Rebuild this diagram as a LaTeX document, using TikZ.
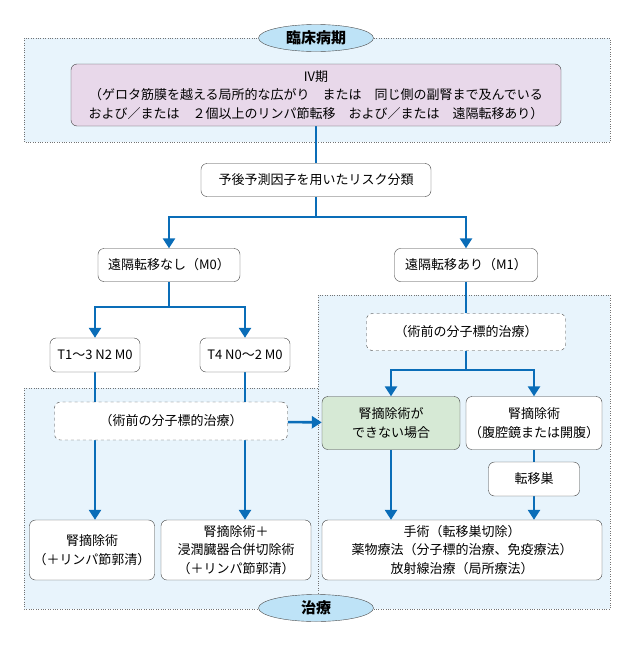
\documentclass[tikz,border=0pt]{standalone}
\usepackage{fontspec}
\setmainfont{Noto Sans CJK JP}
\usetikzlibrary{arrows.meta,positioning,shapes.geometric}

\definecolor{flowblue}{HTML}{0A6DB8}
\definecolor{areafill}{HTML}{E8F4FC}
\definecolor{ovalfill}{HTML}{BEE3F7}
\definecolor{stagefill}{HTML}{E8D8EA}
\definecolor{greenfill}{HTML}{D6E9D5}

\pgfdeclarelayer{area}
\pgfdeclarelayer{flow}
\pgfsetlayers{area,flow,main}

\begin{document}
\begin{tikzpicture}[x=1pt, y=-1pt,
			box/.style={draw=black!75, rounded corners=6pt, fill=white, align=center, inner sep=0pt, font=\fontsize{13}{18.5}\selectfont},
			pre/.style={box, dashed},
			oval/.style={ellipse, draw=black!70, fill=ovalfill, minimum width=115, minimum height=27, inner sep=0pt, font=\fontsize{15}{16}\selectfont\bfseries},
			area/.style={draw=black!55, dotted, fill=areafill},
			line/.style={draw=flowblue, line width=2.6pt},
			arr/.style={line, -{Triangle[length=10pt, width=12pt]}}
			]
			\useasboundingbox (0,0) rectangle (630,656);
			
			% shaded areas
			\begin{pgfonlayer}{area}
				\path[area] (24,38) rectangle (610,142);
				\path[area] (24,388) rectangle (318,609);
				\path[area] (318,295) rectangle (610,609);
			\end{pgfonlayer}
			
			\node[oval] (stagelabel) at (316,38) {臨床病期};
			\node[oval] (treatlabel) at (316,608) {治療};
			
			\node[box, fill=stagefill, minimum width=490, minimum height=62] (stage) at (316,95)
				{IV期\\（ゲロタ筋膜を越える局所的な広がり　または　同じ側の副腎まで及んでいる\\および／または　２個以上のリンパ節転移　および／または　遠隔転移あり）};
			\node[box, minimum width=230, minimum height=33] (risk) at (316,180) {予後予測因子を用いたリスク分類};
			
			\node[box, minimum width=142, minimum height=33] (nometa) at (169,265) {遠隔転移なし（M0）};
			\node[box, minimum width=143, minimum height=33] (meta) at (466,265) {遠隔転移あり（M1）};
			
			\node[box, minimum width=90, minimum height=34] (tlow) at (95,355) {T1〜3 N2 M0};
			\node[box, minimum width=90, minimum height=34] (thigh) at (245,355) {T4 N0〜2 M0};
			
			\node[pre, minimum width=233, minimum height=38] (preleft) at (171,421) {（術前の分子標的治療）};
			\node[pre, minimum width=199, minimum height=37] (preright) at (466,332) {（術前の分子標的治療）};
			
			\node[box, fill=greenfill, minimum width=138, minimum height=53] (noop) at (391,423) {腎摘除術が\\できない場合};
			\node[box, minimum width=136, minimum height=53] (nephr) at (534,423) {腎摘除術\\（腹腔鏡または開腹）};
			\node[box, minimum width=91, minimum height=34] (focus) at (534,479) {転移巣};
			
			\node[box, minimum width=125, minimum height=60] (resleft) at (92,550) {腎摘除術\\（＋リンパ節郭清）};
			\node[box, minimum width=150, minimum height=60] (resmid) at (236,550) {腎摘除術＋\\浸潤臓器合併切除術\\（＋リンパ節郭清）};
			\node[box, minimum width=280, minimum height=60] (resright) at (462,550) {手術（転移巣切除）\\薬物療法（分子標的治療、免疫療法）\\放射線治療（局所療法）};
			
			\coordinate (riskfork) at (316,217);
			\coordinate (m0fork) at (169,307);
			\coordinate (m1fork) at (466,370);
			
			% connectors
			\begin{pgfonlayer}{flow}
				\draw[line] (stage) -- (risk);
				\draw[line] (risk) -- (riskfork);
				\draw[arr] (riskfork) -| (nometa);
				\draw[arr] (riskfork) -| (meta);
				\draw[line] (nometa) -- (m0fork);
				\draw[arr] (m0fork) -| (tlow);
				\draw[arr] (m0fork) -| (thigh);
				\draw[arr] (tlow) -- (tlow |- resleft.north);
				\draw[arr] (thigh) -- (thigh |- resmid.north);
				\draw[arr] (preleft) -- (noop);
				\draw[line] (meta) -- (preright);
				\draw[line] (preright) -- (m1fork);
				\draw[arr] (m1fork) -| (noop);
				\draw[arr] (m1fork) -| (nephr);
				\draw[arr] (noop) -- (noop |- resright.north);
				\draw[line] (nephr) -- (focus);
				\draw[arr] (focus) -- (focus |- resright.north);
			\end{pgfonlayer}
		\end{tikzpicture}
\end{document}
